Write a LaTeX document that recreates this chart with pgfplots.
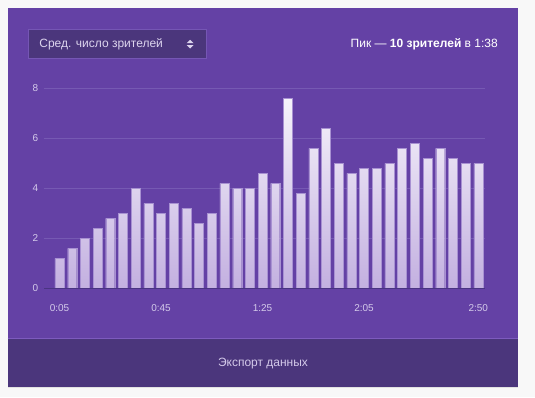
\documentclass[border=0pt]{standalone}
\usepackage{fontspec}
\setmainfont{Liberation Sans}
\usepackage{pgfplots}
\pgfplotsset{compat=1.18}
\definecolor{pagebg}{HTML}{F8F8F8}
\definecolor{shadowc}{HTML}{E2E2E2}
\definecolor{cardpurple}{HTML}{6441A5}
\definecolor{darkband}{HTML}{4B367C}
\definecolor{sepc}{HTML}{7D5BBE}
\definecolor{boxborder}{HTML}{7556B4}
\definecolor{gridc}{HTML}{7659B3}
\definecolor{zeroc}{HTML}{4A3482}
\definecolor{tickc}{HTML}{D4CAEA}
\definecolor{bartop}{HTML}{F6F3FB}
\definecolor{barbot}{HTML}{C3B0E0}
\definecolor{baredge}{HTML}{A891D2}
\begin{document}
\begin{tikzpicture}
\fill[pagebg] (0pt,0pt) rectangle (535pt,-397pt);
\fill[shadowc] (8pt,-9pt) rectangle (518pt,-388.2pt);
\fill[cardpurple] (7.7pt,-7.7pt) rectangle (517.7pt,-338.8pt);
\fill[darkband] (7.7pt,-338.8pt) rectangle (517.7pt,-387pt);
\draw[sepc, line width=0.8pt] (7.7pt,-338.8pt) -- (517.7pt,-338.8pt);
\filldraw[fill=darkband, draw=boxborder, line width=0.8pt] (28.5pt,-29pt) rectangle (206.5pt,-58.5pt);
\node[anchor=west, inner sep=0pt, text=tickc!80!white, font=\fontsize{12}{14}\selectfont] at (39.2pt,-44pt) {Сред. число зрителей};
\fill[tickc!80!white] (186.7pt,-43.2pt) -- (193.5pt,-43.2pt) -- (190.1pt,-39.8pt) -- cycle;
\fill[tickc!80!white] (186.7pt,-45.1pt) -- (193.5pt,-45.1pt) -- (190.1pt,-48.5pt) -- cycle;
\node[anchor=east, inner sep=0pt, text=white, font=\fontsize{12}{14}\selectfont] at (498pt,-44pt) {Пик — \textbf{10 зрителей} в 1:38};
\node[inner sep=0pt, text=tickc, font=\fontsize{12}{14}\selectfont] at (263pt,-363.7pt) {Экспорт данных};
\begin{axis}[
  at={(44pt,-288.3pt)}, anchor=south west,
  scale only axis, width=441pt, height=200pt,
  xmin=-0.22, xmax=34.53, ymin=0, ymax=8,
  axis line style={draw=none},
  major tick length=0pt,
  ytick={0,2,4,6,8},
  ymajorgrids,
  grid style={gridc, line width=0.6pt},
  xtick={1,9,17,25,34},
  xticklabels={{0:05},{0:45},{1:25},{2:05},{2:50}},
  tick label style={font=\fontsize{10}{12}\selectfont, text=tickc},
  /pgf/number format/assume math mode=true,
  xticklabel style={yshift=-13pt},
  yticklabel style={xshift=-2.4pt},
  clip=false,
]
\addplot[ybar, bar width=9pt, draw=baredge, line width=0.3pt, top color=bartop, bottom color=barbot]
coordinates {
(1,1.2) (2,1.6) (3,2.0) (4,2.4) (5,2.8) (6,3.0) (7,4.0) (8,3.4) (9,3.0) (10,3.4)
(11,3.2) (12,2.6) (13,3.0) (14,4.2) (15,4.0) (16,4.0) (17,4.6) (18,4.2) (19,7.6) (20,3.8)
(21,5.6) (22,6.4) (23,5.0) (24,4.6) (25,4.8) (26,4.8) (27,5.0) (28,5.6) (29,5.8) (30,5.2)
(31,5.6) (32,5.2) (33,5.0) (34,5.0)
};
\draw[zeroc, line width=1pt] (axis cs:-0.22,0) -- (axis cs:34.53,0);
\end{axis}
\end{tikzpicture}
\end{document}
